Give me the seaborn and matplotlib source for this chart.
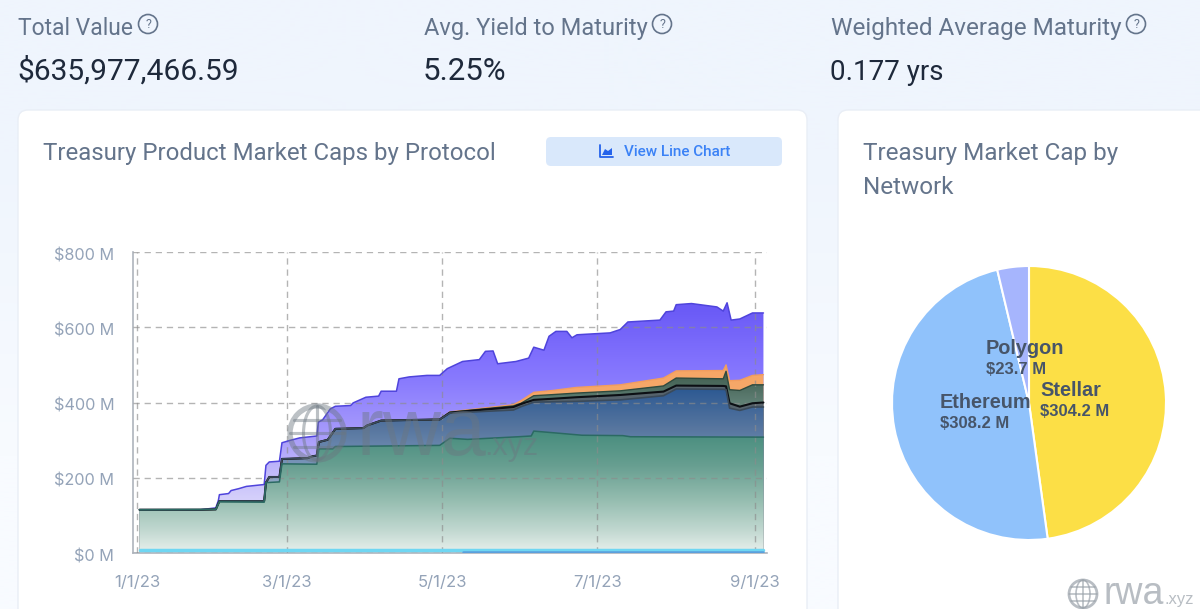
import numpy as np
import matplotlib
matplotlib.use('Agg')
import matplotlib.pyplot as plt
from matplotlib.colors import to_rgb
from matplotlib.patches import FancyBboxPatch, Circle, Ellipse
from matplotlib.transforms import ScaledTranslation
import seaborn as sns

# values in $M, x is days since 1/1/23
top_days = [1, 25, 31, 32, 32.4, 36, 37, 40, 43, 50, 50.7, 52, 56, 57, 60, 64, 70.7, 71.3, 73, 76, 78, 84, 85, 90, 95,
            96, 102, 103, 107, 114, 119, 122, 128, 134.6, 137, 140, 141.8, 149, 154, 156, 160, 162, 164.7, 169, 171,
            173, 186, 190, 193, 198, 205.6, 208, 211, 212, 218, 228, 230.5, 232, 233.6, 237, 242, 246.3]
top_vals = [115, 115, 120, 140, 155, 158, 166, 171, 177, 182, 233, 242, 244, 293, 299, 306, 311, 348, 354, 383, 390,
            392, 399, 414, 417, 430, 430, 463, 468, 472, 472, 490, 509, 514, 536, 537, 503, 509, 518, 547, 539, 576,
            589, 589, 572, 580, 585, 594, 614, 616, 619, 641, 643, 660, 663, 654, 643, 665, 619, 622, 638, 638]

stack_days = [1, 25, 31, 32.4, 50, 50.7, 52, 56, 57, 67, 69, 70.7, 71.5, 75, 78, 89, 90.5, 96, 119, 123, 148, 151, 156,
              163.5, 172.7, 190, 207, 212, 230.5, 231.6, 233, 237, 242, 246.3]
blue_vals = [115, 115, 116, 138, 138, 187, 202, 202, 250, 252, 257, 259, 295, 301, 330, 332, 339, 352, 355, 372, 380,
             389, 401, 402, 403, 407, 418, 436, 435, 434, 385, 379, 388, 388]
black_vals = [115, 115, 116, 138, 138, 187, 202, 202, 250, 252, 257, 259, 295, 301, 330, 332, 339, 352, 355, 373, 388,
              396, 407, 410, 414, 420, 429, 445, 444, 443, 398, 389, 398, 400]
olive_vals = [115, 115, 116, 138, 138, 187, 202, 202, 250, 252, 257, 259, 295, 301, 330, 332, 339, 352, 355, 374, 391,
              398, 418, 421, 425, 431, 444, 465, 463, 483, 434, 432, 447, 447]
orange_vals = [115, 115, 116, 138, 138, 187, 202, 202, 250, 252, 257, 259, 295, 301, 330, 332, 339, 352, 355, 375, 394,
               405, 427, 432, 440, 447, 465, 484, 485, 500, 458, 459, 472, 474]

teal_days = [1, 31, 32.4, 50, 50.7, 56, 57, 70.7, 71.5, 77, 78, 119, 123, 130, 150, 155, 156, 163, 175, 191, 194, 246.3]
teal_vals = [115, 116, 136, 135, 187, 189, 237, 236, 277, 277, 283, 286, 305, 302, 309, 311, 324, 320, 313, 312, 309, 308]

cyan_days = [1, 246.3]
cyan_vals = [8, 8]
low_days = [128, 246.3]
low_vals = [2.5, 2.5]

y_ticks = [0, 200, 400, 600, 800]
y_labels = ['$0 M', '$200 M', '$400 M', '$600 M', '$800 M']
x_ticks = [0, 59, 120, 181, 243]
x_labels = ['1/1/23', '3/1/23', '5/1/23', '7/1/23', '9/1/23']

networks = ['Stellar', 'Ethereum', 'Polygon']
network_caps = [304.2, 308.2, 23.7]
network_colors = ['#fcdf46', '#90c2fb', '#a6b5fd']

W, H = 1200, 609
sns.set_theme(style='white')
plt.rcParams['font.family'] = ['Inter', 'DejaVu Sans']

fig = plt.figure(figsize=(W / 100, H / 100), dpi=100)


def px_axes(zorder):
    a = fig.add_axes([0, 0, 1, 1], zorder=zorder)
    a.set_xlim(0, W)
    a.set_ylim(H, 0)
    a.axis('off')
    a.patch.set_alpha(0)
    return a


bg = px_axes(0)
bg.imshow(np.array([[to_rgb('#eff5fd')], [to_rgb('#f8fbff')]]), extent=[0, W, H, 0], aspect='auto',
          interpolation='bilinear')
bg.set_xlim(0, W)
bg.set_ylim(H, 0)
for x0, x1 in [(18, 807), (838, 1260)]:
    bg.add_patch(FancyBboxPatch((x0, 110), x1 - x0, 560, boxstyle='round,pad=0,rounding_size=10',
                                fc='white', ec='#e9eef6', lw=1))

# header texts
GREY = '#64748b'
DARK = '#1e293b'
HEAD = 'Roboto'
for x, label, label_size, val, val_size, qx in [(18, 'Total Value', 16.5, '$635,977,466.59', 21.5, 148),
                                                (424, 'Avg. Yield to Maturity', 17, '5.25%', 22.5, 662),
                                                (831, 'Weighted Average Maturity', 17.5, '0.177 yrs', 20, 1136)]:
    bg.text(x, 35, label, color=GREY, fontsize=label_size, va='baseline', family=HEAD)
    bg.text(x - 1, 79.5, val, color=DARK, fontsize=val_size, va='baseline', family=HEAD)
    bg.add_patch(Circle((qx, 24), 9.5, fc='none', ec=GREY, lw=1.2))
    bg.text(qx, 24, '?', color=GREY, fontsize=9, ha='center', va='center', family=HEAD)

bg.text(43, 160, 'Treasury Product Market Caps by Protocol', color=GREY, fontsize=17.3, va='baseline', family=HEAD)
bg.text(863, 160, 'Treasury Market Cap by', color=GREY, fontsize=17.5, va='baseline', family=HEAD)
bg.text(863, 194, 'Network', color=GREY, fontsize=17.5, va='baseline', family=HEAD)

# button
bg.add_patch(FancyBboxPatch((546, 137), 236, 29, boxstyle='round,pad=0,rounding_size=5', fc='#d9e8fb', ec='none'))
bg.text(624, 151.5, 'View Line Chart', color='#3b82f6', fontsize=11, va='center', family=HEAD, fontweight='medium')
bg.plot([600, 600, 613], [145, 157, 157], color='#2563eb', lw=1.3)
bg.fill([602, 605, 608, 612, 612, 602], [155, 149, 151, 148, 155, 155], color='#2563eb', lw=0)

# stacked area chart
ax = fig.add_axes([133 / W, 1 - 553 / H, (767 - 133) / W, (553 - 252) / H], zorder=1)
ax.patch.set_alpha(0)
xlim = (-1.57, 247.7)
ylim = (0, 800)


def gradient_area(days, vals, stops):
    poly = ax.fill_between(days, vals, 0, facecolor='none', edgecolor='none')
    levels = np.linspace(ylim[0], ylim[1], 400)
    rgb = [np.interp(levels, [s[0] for s in stops], [to_rgb(s[1])[i] for s in stops]) for i in range(3)]
    img = np.stack(rgb, axis=1).reshape(400, 1, 3)
    im = ax.imshow(img, origin='lower', extent=[xlim[0], xlim[1], ylim[0], ylim[1]], aspect='auto', zorder=2)
    im.set_clip_path(poly.get_paths()[0], transform=ax.transData)


gradient_area(top_days, top_vals, [(0, '#f0eefc'), (150, '#d3cefa'), (300, '#ab9ffb'), (450, '#8a7cfe'), (520, '#8070fd'), (650, '#6a5af6')])
gradient_area(stack_days, orange_vals, [(0, '#f6b27a'), (500, '#f6a666')])
gradient_area(stack_days, olive_vals, [(0, '#5f7f74'), (400, '#5f7f74'), (480, '#3f5c4e')])
gradient_area(stack_days, black_vals, [(0, '#56636c'), (500, '#56636c')])
gradient_area(stack_days, blue_vals, [(0, '#dde6ef'), (250, '#7390b5'), (330, '#57769f'), (440, '#2b5892')])
gradient_area(teal_days, teal_vals, [(0, '#e8f0ed'), (60, '#c1d8d0'), (140, '#95bdb0'), (230, '#689f91'), (320, '#478d7e')])

lines = [(top_days, top_vals, '#4f44dc', 1.1), (stack_days, orange_vals, '#f29d5e', 1.0),
         (stack_days, olive_vals, '#2f4a3e', 1.0), (stack_days, black_vals, '#0c0f14', 1.5),
         (stack_days, blue_vals, '#3a4a5a', 1.2), (teal_days, teal_vals, '#2b6a63', 1.1),
         (cyan_days, cyan_vals, '#6fd6f2', 2.5), (low_days, low_vals, '#5b9fdc', 1.8)]
for d, v, c, lw in lines:
    sns.lineplot(x=d, y=v, ax=ax, color=c, linewidth=lw, estimator=None, sort=False, zorder=3, legend=False)

ax.set_xlim(*xlim)
ax.set_ylim(*ylim)
ax.set_xticks(x_ticks, x_labels)
ax.set_yticks(y_ticks, y_labels)
ax.tick_params(axis='x', length=8, width=1, color='#9aa3ad', labelcolor='#94a3b8', labelsize=12, pad=8)
ax.tick_params(axis='y', length=0, labelcolor='#94a3b8', labelsize=11.7, pad=13.5)
for lab in ax.get_yticklabels():
    lab.set_transform(lab.get_transform() + ScaledTranslation(0, -1.5 / 72, fig.dpi_scale_trans))
ax.grid(True, color='#8c8c8c', alpha=0.65, lw=1, linestyle=(0, (4.5, 3.5)), zorder=4)
ax.set_axisbelow(False)
for s in ['top', 'right']:
    ax.spines[s].set_visible(False)
for s in ['left', 'bottom']:
    ax.spines[s].set_color('#aeb4bc')
    ax.spines[s].set_linewidth(1.2)

# network pie, centre (1029, 403) radius 137
pie_ax = fig.add_axes([(1029 - 137) / W, 1 - (403 + 137) / H, 274 / W, 274 / H], zorder=1)
pie_ax.pie(network_caps, colors=network_colors, startangle=90, counterclock=False, radius=1,
           wedgeprops={'edgecolor': 'white', 'linewidth': 1.5})
pie_ax.set_xlim(-1, 1)
pie_ax.set_ylim(-1, 1)

ov = px_axes(5)
LBL = '#475569'
for x, y, name, cap in [(986, 348, networks[2], network_caps[2]),
                        (1040, 390, networks[0], network_caps[0]),
                        (940, 402, networks[1], network_caps[1])]:
    ov.text(x, y, name, color=LBL, fontsize=14.3, fontweight='bold', va='center', family='Liberation Sans')
    ov.text(x, y + 21.5, f'${cap} M', color=LBL, fontsize=12, fontweight='bold', va='center', family='Liberation Sans')


def watermark(cx, cy, r, rwa_x, rwa_y, rwa_size, xyz_x, xyz_size, color, alpha):
    ov.add_patch(Circle((cx, cy), r, fc='none', ec=color, lw=r / 7, alpha=alpha))
    ov.add_patch(Ellipse((cx, cy), r, 2 * r, fc='none', ec=color, lw=r / 12, alpha=alpha))
    ov.plot([cx, cx], [cy - r, cy + r], color=color, lw=r / 12, alpha=alpha)
    for f in (-0.5, 0, 0.5):
        half = r * np.sqrt(1 - f * f)
        ov.plot([cx - half, cx + half], [cy + f * r, cy + f * r], color=color, lw=r / 12, alpha=alpha)
    ov.text(rwa_x, rwa_y, 'rwa', color=color, fontsize=rwa_size, va='baseline', alpha=alpha, family='Liberation Sans')
    ov.text(xyz_x, rwa_y, '.xyz', color=color, fontsize=xyz_size, va='baseline', alpha=alpha, family='Liberation Sans')


watermark(317, 433, 27, 357, 455, 58, 484, 22, '#6b7680', 0.45)
watermark(1083, 594, 14, 1104, 604, 27, 1165, 12, '#9aa2aa', 0.7)
ov.set_xlim(0, W)
ov.set_ylim(H, 0)

fig.savefig('out.png', dpi=100)
